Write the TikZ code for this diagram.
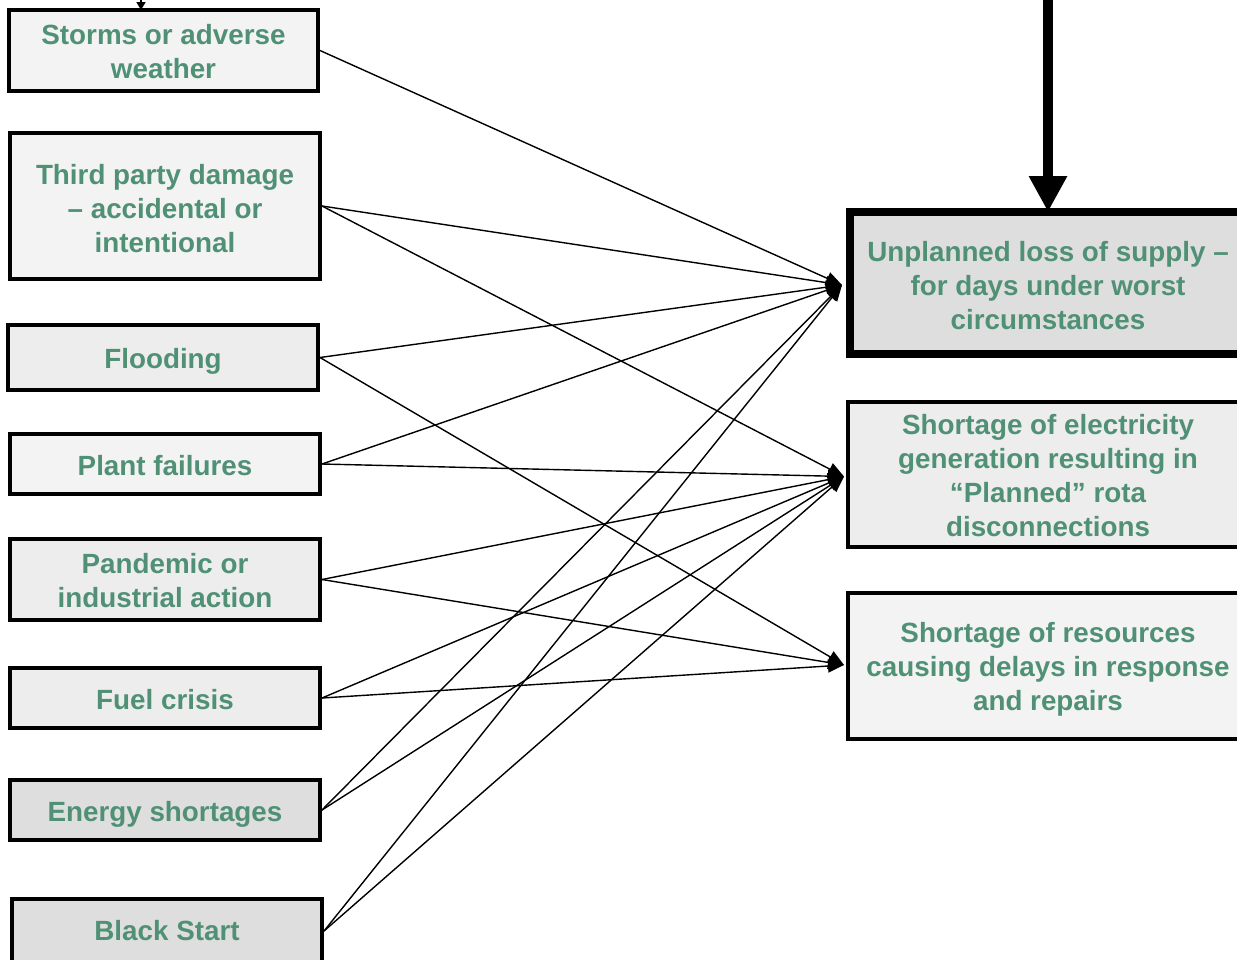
\documentclass[tikz,border=0pt]{standalone}
\usepackage{fontspec}
\setmainfont{Liberation Sans}
\usetikzlibrary{arrows.meta}
\definecolor{txtgreen}{RGB}{80,145,118}
\definecolor{fillA}{RGB}{243,243,243}
\definecolor{fillB}{RGB}{237,237,237}
\definecolor{fillC}{RGB}{222,222,222}
\tikzset{
  box/.style={draw=black, line width=4pt, rectangle, inner sep=0pt},
  txt/.style={align=center, inner sep=0pt, text=txtgreen,
    font=\bfseries\fontsize{27.8}{34}\selectfont},
  conn/.style={line width=1.4pt, -{Triangle[length=16pt,width=13pt]}},
}
\begin{document}
\begin{tikzpicture}[x=1pt,y=-1pt]
\useasboundingbox (0,0) rectangle (1237,959);
% left boxes
\node[box, fill=fillA, minimum width=309pt, minimum height=81pt] (storm) at (163.5,50.5) {};
\node[box, fill=fillA, minimum width=310pt, minimum height=146pt] (third) at (165,206) {};
\node[box, fill=fillB, minimum width=310pt, minimum height=65pt] (flood) at (163,357.5) {};
\node[box, fill=fillA, minimum width=310pt, minimum height=60pt] (plant) at (165,464) {};
\node[box, fill=fillB, minimum width=310pt, minimum height=81pt] (pand) at (165,579.5) {};
\node[box, fill=fillB, minimum width=310pt, minimum height=60pt] (fuel) at (165,698) {};
\node[box, fill=fillC, minimum width=310pt, minimum height=60pt] (energy) at (165,810) {};
\node[box, fill=fillC, minimum width=310pt, minimum height=64pt] (black) at (167,931) {};
% right boxes
\node[box, fill=fillC, line width=8pt, minimum width=396pt, minimum height=142pt] (unpl) at (1048,283) {};
\node[box, fill=fillB, minimum width=400pt, minimum height=145pt] (elec) at (1048,474.5) {};
\node[box, fill=fillA, minimum width=400pt, minimum height=146pt] (res) at (1048,666) {};
% texts
\node[txt] (tstorm) at ([yshift=-1pt]storm.center) {Storms or adverse\\weather};
\node[txt] (tthird) at ([yshift=-3pt]third.center) {Third party damage\\– accidental or\\intentional};
\node[txt] (tflood) at ([yshift=-4pt]flood.center) {Flooding};
\node[txt] (tplant) at ([yshift=-2pt]plant.center) {Plant failures};
\node[txt] (tpand) at ([yshift=-1pt]pand.center) {Pandemic or\\industrial action};
\node[txt] (tfuel) at ([yshift=-2pt]fuel.center) {Fuel crisis};
\node[txt] (tenergy) at ([yshift=-4pt]energy.center) {Energy shortages};
\node[txt] (tblack) at (black.center) {Black Start};
\node[txt] (tunpl) at ([yshift=-3pt]unpl.center) {Unplanned loss of supply –\\for days under worst\\circumstances};
\node[txt] (telec) at ([yshift=-1pt]elec.center) {Shortage of electricity\\generation resulting in\\“Planned” rota\\disconnections};
\node[txt] (tres) at ([yshift=-3pt]res.center) {Shortage of resources\\causing delays in response\\and repairs};
% entry points
\coordinate (uin) at ([xshift=-4pt,yshift=-2pt]unpl.west);
\coordinate (ein) at ([xshift=-2pt,yshift=-2pt]elec.west);
\coordinate (rin) at ([xshift=-2pt,yshift=1pt]res.west);
% connectors
\draw[conn] (storm.east) -- (uin);
\draw[conn] (third.east) -- (uin);
\draw[conn] (third.east) -- (ein);
\draw[conn] (flood.east) -- (uin);
\draw[conn] (flood.east) -- (rin);
\draw[conn] (plant.east) -- (uin);
\draw[conn] (plant.east) -- (ein);
\draw[conn] (pand.east) -- (ein);
\draw[conn] (pand.east) -- (rin);
\draw[conn] (fuel.east) -- (ein);
\draw[conn] (fuel.east) -- (rin);
\draw[conn] (energy.east) -- (uin);
\draw[conn] (energy.east) -- (ein);
\draw[conn] (black.east) -- (uin);
\draw[conn] (black.east) -- (ein);
% incoming arrows from above
\coordinate (ttop) at (1048,-10);
\coordinate (stop) at (141,-10);
\draw[line width=10pt, -{Triangle[length=36pt,width=36pt]}] (ttop) -- ([yshift=-4pt]unpl.north);
\draw[line width=1.4pt, -{Triangle[length=8pt,width=9pt]}] (stop) -- ([yshift=-2pt]storm.north -| stop);
\end{tikzpicture}
\end{document}
